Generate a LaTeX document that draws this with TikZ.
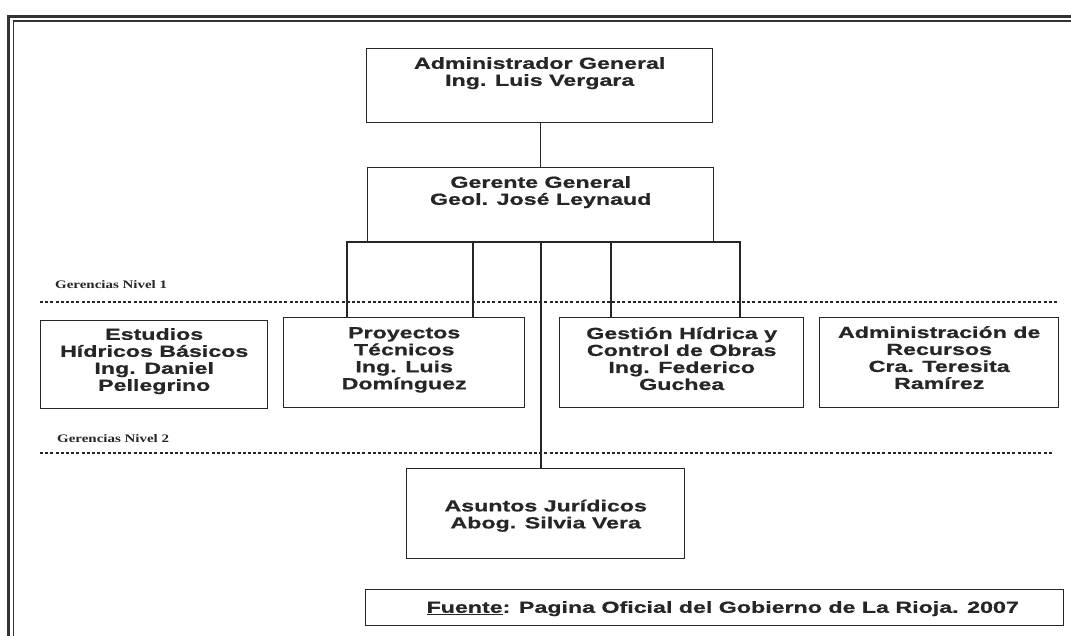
\documentclass[tikz,border=0pt]{standalone}
\usepackage{fontspec}
\newfontfamily\boxfont[FakeStretch=1.45, FakeBold=0.8]{Liberation Sans Bold}
\newfontfamily\lblfont[FakeStretch=1.3]{Liberation Serif Bold}
\begin{document}
\begin{tikzpicture}[x=1pt,y=-1pt,
  box/.style={draw=black!85, line width=1.4pt, inner sep=0pt, anchor=north west},
  txt/.style={inner sep=0pt, align=center, text=black!85, font=\fontsize{16}{17}\boxfont},
  lbl/.style={inner sep=0pt, anchor=base west, text=black!85, font=\fontsize{11.5}{13}\lblfont},
  conn/.style={draw=black!85, line width=1.4pt},
  sep/.style={draw=black!85, line width=1.5pt, dash pattern=on 3pt off 2.2pt}]
\useasboundingbox (0,0) rectangle (1071,636);
\fill[white] (0,0) rectangle (1071,636);
% frame
\draw[black!80, line width=2.6pt] (8.5,636) -- (8.5,16.5) -- (1071,16.5);
\draw[black!80, line width=1.2pt] (13.5,636) -- (13.5,21) -- (1071,21);
% boxes
\node[box, minimum width=346pt, minimum height=74pt] (adm) at (366,48) {};
\node[box, minimum width=346pt, minimum height=75pt] (ger) at (367,167) {};
\node[box, minimum width=227pt, minimum height=88pt] (est) at (40,320) {};
\node[box, minimum width=241pt, minimum height=90pt] (proy) at (283,317) {};
\node[box, minimum width=244pt, minimum height=90pt] (gest) at (559,317) {};
\node[box, minimum width=239pt, minimum height=90pt] (adr) at (819,317) {};
\node[box, minimum width=278pt, minimum height=90pt] (asu) at (406,468) {};
\node[box, minimum width=698pt, minimum height=36pt] (fue) at (365,589) {};
% texts
\node[txt, anchor=north] (admT) at ([yshift=-9pt]adm.north) {Administrador General\\Ing. Luis Vergara};
\node[txt, anchor=north] (gerT) at ([yshift=-9pt]ger.north) {Gerente General\\Geol. José Leynaud};
\node[txt, anchor=north] (estT) at ([yshift=-8pt]est.north) {Estudios\\Hídricos Básicos\\Ing. Daniel\\Pellegrino};
\node[txt, anchor=north] (proyT) at ([yshift=-10pt]proy.north) {Proyectos\\Técnicos\\Ing. Luis\\Domínguez};
\node[txt, anchor=north] (gestT) at ([yshift=-10pt]gest.north) {Gestión Hídrica y\\Control de Obras\\Ing. Federico\\Guchea};
\node[txt, anchor=north] (adrT) at ([yshift=-9pt]adr.north) {Administración de\\Recursos\\Cra. Teresita\\Ramírez};
\node[txt] (asuT) at ([yshift=-2pt]asu.center) {Asuntos Jurídicos\\Abog. Silvia Vera};
\node[txt] (fueT) at ([xshift=8pt,yshift=-1pt]fue.center) {\underline{Fuente}: Pagina Oficial del Gobierno de La Rioja. 2007};
% level labels and separators
\node[lbl] (n1) at (55,289) {Gerencias Nivel 1};
\node[lbl] (n2) at (57,442) {Gerencias Nivel 2};
\coordinate (s1a) at (40,302);
\coordinate (s1b) at (1058,302);
\coordinate (s2a) at (40,453);
\coordinate (s2b) at (1053,453);
\draw[sep] (s1a) -- (s1b);
\draw[sep] (s2a) -- (s2b);
% connectors
\coordinate (hl) at (347,242);
\coordinate (hr) at (740,242);
\coordinate (b1) at (473,242);
\coordinate (b2) at (611,242);
\coordinate (cx) at (541,242);
\draw[conn] (ger.north |- adm.south) -- (ger.north);
\draw[conn] (proy.north -| hl) -- (hl) -- (hr) -- (gest.north -| hr);
\draw[conn] (b1) -- (b1 |- proy.north);
\draw[conn] (b2) -- (b2 |- gest.north);
\draw[conn] (cx) -- (cx |- asu.north);
\end{tikzpicture}
\end{document}
